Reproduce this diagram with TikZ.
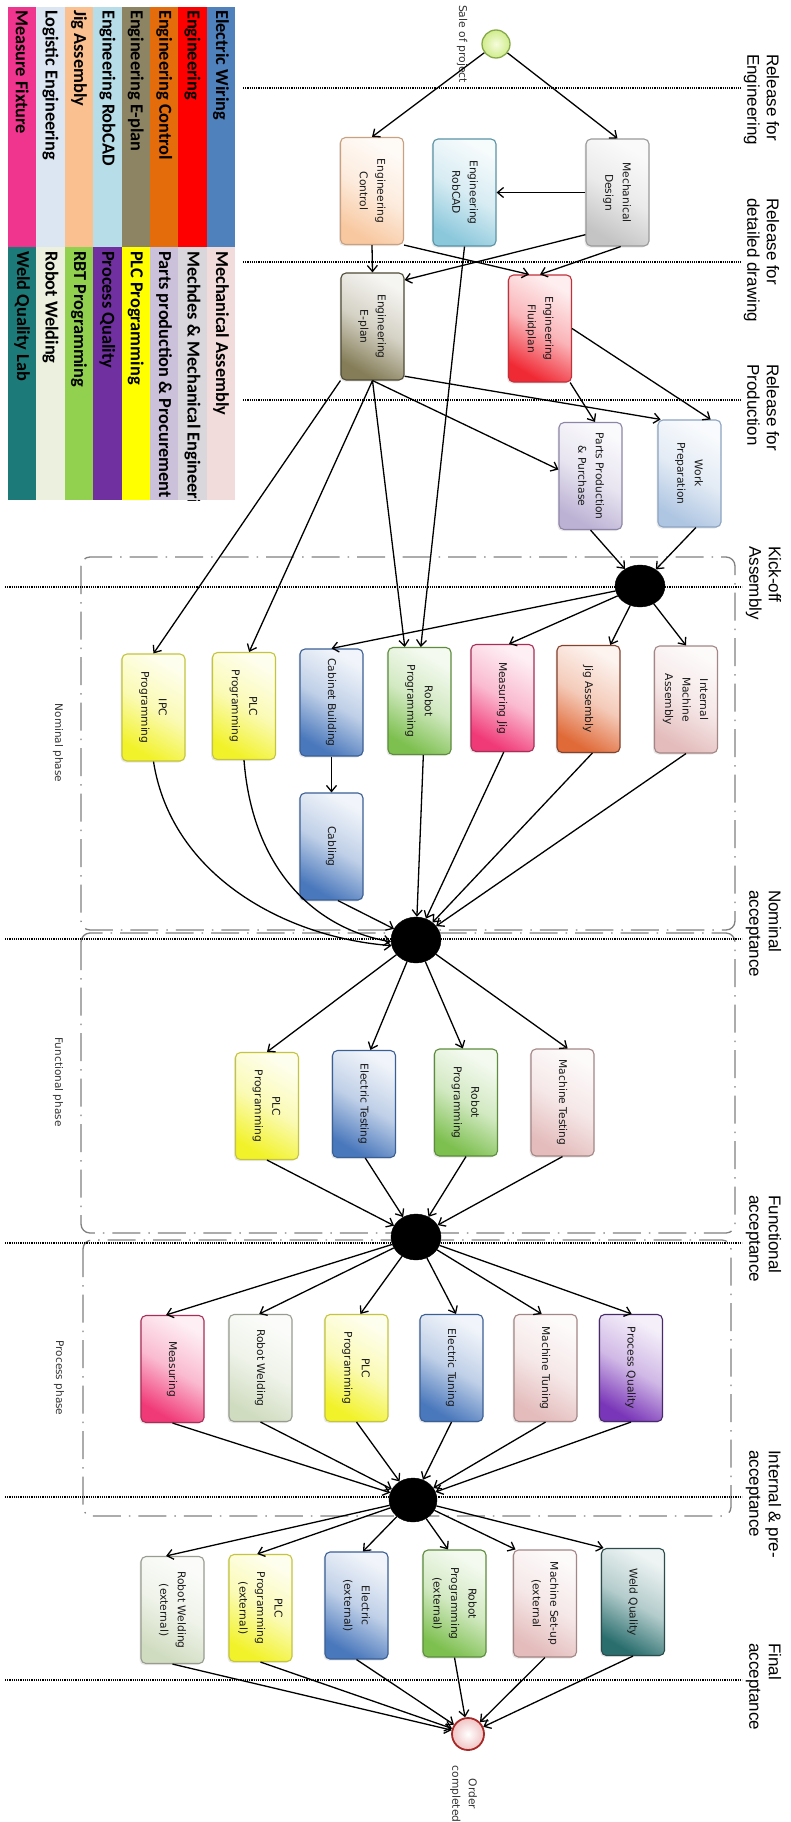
\documentclass[tikz,border=0pt]{standalone}
\usepackage{fontspec}
\setmainfont{DejaVu Sans}
\newfontfamily\lblfont{Liberation Sans}
\newfontfamily\legfont{Carlito}
\usepackage{graphicx}
\usetikzlibrary{arrows.meta,shapes.geometric,calc,shadows}

% legend / category colours
\definecolor{cWiring}{HTML}{4F81BD}
\definecolor{cEng}{HTML}{FF0000}
\definecolor{cEngCtrl}{HTML}{E46C0A}
\definecolor{cEplan}{HTML}{8C8462}
\definecolor{cRobCAD}{HTML}{B7DDE8}
\definecolor{cJig}{HTML}{FAC090}
\definecolor{cLogistic}{HTML}{DCE6F2}
\definecolor{cMeasure}{HTML}{F0358F}
\definecolor{cMechAss}{HTML}{F2DCDB}
\definecolor{cMechdes}{HTML}{D9D7DC}
\definecolor{cParts}{HTML}{CCC1DA}
\definecolor{cPLC}{HTML}{FFFF00}
\definecolor{cProcess}{HTML}{7030A0}
\definecolor{cRBT}{HTML}{92D050}
\definecolor{cWelding}{HTML}{EBF1DE}
\definecolor{cWeldLab}{HTML}{1C7A78}

% box fills (strong end) and borders
\definecolor{fPeach}{HTML}{F8C8A0}\definecolor{bPeach}{HTML}{C9A080}
\definecolor{fRobCAD}{HTML}{8CC8DC}\definecolor{bRobCAD}{HTML}{5A93A6}
\definecolor{fGrey}{HTML}{C4C4C4}\definecolor{bGrey}{HTML}{9A9A9A}
\definecolor{fOlive}{HTML}{857D58}\definecolor{bOlive}{HTML}{4E4B36}
\definecolor{fRed}{HTML}{F02A35}\definecolor{bRed}{HTML}{C2303A}
\definecolor{fLav}{HTML}{BCB2D4}\definecolor{bLav}{HTML}{8E86A8}
\definecolor{fSky}{HTML}{AFC6E2}\definecolor{bSky}{HTML}{8CA4C2}
\definecolor{fYel}{HTML}{F2F22A}\definecolor{bYel}{HTML}{C4C43E}
\definecolor{fBlue}{HTML}{4A78BC}\definecolor{bBlue}{HTML}{3A5F95}
\definecolor{fGreen}{HTML}{7EC050}\definecolor{bGreen}{HTML}{5C8C3C}
\definecolor{fPink}{HTML}{F03A78}\definecolor{bPink}{HTML}{A82E58}
\definecolor{fOrange}{HTML}{E06A38}\definecolor{bOrange}{HTML}{84412C}
\definecolor{fRose}{HTML}{E4BCBC}\definecolor{bRose}{HTML}{A48686}
\definecolor{fSage}{HTML}{D0DCC0}\definecolor{bSage}{HTML}{989C90}
\definecolor{fPurple}{HTML}{7A36B8}\definecolor{bPurple}{HTML}{482A6C}
\definecolor{fTeal}{HTML}{2A6E6E}\definecolor{bTeal}{HTML}{2C4C4C}

\newcommand\bx[1]{\rotatebox{-90}{\begin{tabular}{@{}c@{}}#1\end{tabular}}}
\newcommand\ml[1]{\rotatebox{-90}{\begin{tabular}{@{}l@{}}#1\end{tabular}}}

\tikzset{
  box/.style={draw, rounded corners=5pt, minimum width=63pt, minimum height=107pt,
    inner sep=0pt, line width=1.1pt, font=\fontsize{10.7}{17.5}\selectfont, text=black!90,
    drop shadow={shadow xshift=-1.5pt, shadow yshift=-1.5pt, opacity=.18}},
  paint/.style 2 args={top color=#1!8!white, bottom color=#1, middle color=#1!35!white,
    shading angle=-30, draw=#2},
  gate/.style={ellipse, fill=black, draw=black, inner sep=0pt},
  arr/.style={-{Straight Barb[length=6pt,width=10pt]}, line width=1.3pt},
  mile/.style={line width=1.3pt, dash pattern=on 1.1pt off 1.1pt},
  frame/.style={draw=black!50, line width=1.3pt, rounded corners=9pt,
    dash pattern=on 28pt off 8pt on 1.5pt off 8pt},
  mlabel/.style={anchor=north, inner sep=0pt, font=\lblfont\fontsize{17}{19.5}\selectfont},
  phase/.style={inner sep=0pt, font=\fontsize{10.5}{12.5}\selectfont, text=black!80},
  legtext/.style={anchor=north, inner sep=0pt, font=\legfont\bfseries\fontsize{18.3}{20}\selectfont}
}

\begin{document}
\begin{tikzpicture}[x=1pt, y=-1pt]
\useasboundingbox (0,0) rectangle (790,1822);
\fill[white] (0,0) rectangle (790,1822);

% ---------- legend ----------
\foreach \c/\t [count=\i from 0] in {cMeasure/Measure Fixture, cLogistic/Logistic Engineering,
    cJig/Jig Assembly, cRobCAD/Engineering RobCAD, cEplan/Engineering E-plan,
    cEngCtrl/Engineering Control, cEng/Engineering, cWiring/Electric Wiring}{
  \fill[\c] ({8+28.4*\i},7) rectangle ({8+28.4*(\i+1)},247);
  \node[legtext] (legA\i) at ({8+28.4*\i+14.2},10) {\rotatebox{-90}{\t}};
}
\begin{scope}
\clip (8,247) rectangle (236,500);
\foreach \c/\t [count=\i from 0] in {cWeldLab/Weld Quality Lab, cWelding/Robot Welding,
    cRBT/RBT Programming, cProcess/Process Quality, cPLC/PLC Programming,
    cParts/Parts production \& Procurement, cMechdes/Mechdes \& Mechanical Engineering,
    cMechAss/Mechanical Assembly}{
  \fill[\c] ({8+28.4*\i},247) rectangle ({8+28.4*(\i+1)},500);
  \node[legtext] (legB\i) at ({8+28.4*\i+14.2},251) {\rotatebox{-90}{\t}};
}
\end{scope}

% ---------- phase frames ----------
\draw[frame] (81,557) rectangle (735,930);
\draw[frame] (81,933) rectangle (735,1233);
\draw[frame] (83,1240) rectangle (731,1516);
\node[phase] (phN) at (58,743) {\rotatebox{-90}{Nominal phase}};
\node[phase] (phF) at (58,1082) {\rotatebox{-90}{Functional phase}};
\node[phase] (phP) at (59,1378) {\rotatebox{-90}{Process phase}};

% ---------- milestones ----------
\draw[mile] (243,88) -- (742,88);
\draw[mile] (243,262) -- (742,262);
\draw[mile] (243,400) -- (742,400);
\draw[mile] (5,587) -- (742,587);
\draw[mile] (5,939) -- (742,939);
\draw[mile] (5,1243) -- (742,1243);
\draw[mile] (5,1497) -- (742,1497);
\draw[mile] (5,1680) -- (742,1680);
\node[mlabel] (m1) at (761,54) {\ml{Release for\\Engineering}};
\node[mlabel] (m2) at (761,198) {\ml{Release for\\detailed drawing}};
\node[mlabel] (m3) at (761,364) {\ml{Release for\\Production}};
\node[mlabel] (m4) at (763,546) {\ml{Kick-off\\Assembly}};
\node[mlabel] (m5) at (763,890) {\ml{Nominal\\acceptance}};
\node[mlabel] (m6) at (763,1195) {\ml{Functional\\acceptance}};
\node[mlabel] (m7) at (763,1450) {\ml{Internal \& pre-\\acceptance}};
\node[mlabel] (m8) at (763,1643) {\ml{Final\\acceptance}};

% ---------- start / end events ----------
\node[circle, minimum size=28pt, inner sep=0pt, line width=1.3pt, draw={rgb,255:red,134;green,169;blue,74},
  inner color={rgb,255:red,246;green,252;blue,220}, outer color={rgb,255:red,208;green,236;blue,140}]
  (start) at (496,44) {};
\node[phase, font=\fontsize{10.8}{12}\selectfont] (saletxt) at (462,44) {\rotatebox{-90}{Sale of project}};
\node[circle, minimum size=32pt, inner sep=0pt, line width=1.8pt, draw={rgb,255:red,168;green,40;blue,40},
  inner color=white, outer color={rgb,255:red,240;green,196;blue,196}]
  (end) at (468,1734) {};
\node[phase, font=\fontsize{10.7}{16.5}\selectfont] (endtxt) at (464,1794) {\bx{Order\\completed}};

% ---------- engineering ----------
\node[box, paint={fPeach}{bPeach}]   (ec) at (372,191)   {\bx{Engineering\\Control}};
\node[box, paint={fRobCAD}{bRobCAD}] (rc) at (464.5,192.5) {\bx{Engineering\\RobCAD}};
\node[box, paint={fGrey}{bGrey}]     (md) at (617.5,192.5) {\bx{Mechanical\\Design}};
\node[box, paint={fOlive}{bOlive}]   (ep) at (372.5,326.5) {\bx{Engineering\\E-plan}};
\node[box, paint={fRed}{bRed}]       (fp) at (540,328.5)   {\bx{Engineering\\Fluidplan}};
\node[box, paint={fLav}{bLav}]       (pp) at (590.5,476)   {\bx{Parts Production\\\& Purchase}};
\node[box, paint={fSky}{bSky}]       (wp) at (689.5,473.5) {\bx{Work\\Preparation}};

% ---------- nominal phase ----------
\node[gate, minimum width=50pt, minimum height=42pt] (kick) at (640,586) {};
\node[box, paint={fYel}{bYel}]       (ipc)  at (153.5,707.5) {\bx{IPC\\Programming}};
\node[box, paint={fYel}{bYel}]       (plc1) at (244,706)     {\bx{PLC\\Programming}};
\node[box, paint={fBlue}{bBlue}]     (cb)   at (331.5,702.5) {\bx{Cabinet Building}};
\node[box, paint={fBlue}{bBlue}]     (cab)  at (331.5,846.5) {\bx{Cabling}};
\node[box, paint={fGreen}{bGreen}]   (rp1)  at (419.5,701)   {\bx{Robot\\Programming}};
\node[box, paint={fPink}{bPink}]     (mj)   at (502.5,698)   {\bx{Measuring Jig}};
\node[box, paint={fOrange}{bOrange}] (ja)   at (588.5,699)   {\bx{Jig Assembly}};
\node[box, paint={fRose}{bRose}]     (ima)  at (686,699.5)   {\bx{Internal\\Machine\\Assembly}};
\node[gate, minimum width=50pt, minimum height=46pt] (nom) at (416,940) {};

% ---------- functional phase ----------
\node[box, paint={fYel}{bYel}]       (plc2) at (267,1106)    {\bx{PLC\\Programming}};
\node[box, paint={fBlue}{bBlue}]     (et)   at (364,1104)    {\bx{Electric Testing}};
\node[box, paint={fGreen}{bGreen}]   (rp2)  at (466,1102.5)  {\bx{Robot\\Programming}};
\node[box, paint={fRose}{bRose}]     (mt)   at (562.5,1102.5) {\bx{Machine Testing}};
\node[gate, minimum width=50pt, minimum height=46pt] (func) at (416,1237) {};

% ---------- process phase ----------
\node[box, paint={fPink}{bPink}]     (meas) at (172.5,1369)  {\bx{Measuring}};
\node[box, paint={fSage}{bSage}]     (rw)   at (260.5,1368)  {\bx{Robot Welding}};
\node[box, paint={fYel}{bYel}]       (plc3) at (356.5,1368)  {\bx{PLC\\Programming}};
\node[box, paint={fBlue}{bBlue}]     (etu)  at (451.5,1368)  {\bx{Electric Tuning}};
\node[box, paint={fRose}{bRose}]     (mtu)  at (545.5,1368)  {\bx{Machine Tuning}};
\node[box, paint={fPurple}{bPurple}] (pq)   at (631,1368)    {\bx{Process Quality}};
\node[gate, minimum width=48pt, minimum height=44pt] (int) at (413,1500) {};

% ---------- final acceptance ----------
\node[box, paint={fSage}{bSage}]     (rwx)  at (172.5,1610)  {\bx{Robot Welding\\(external)}};
\node[box, paint={fYel}{bYel}]       (plcx) at (260.5,1608)  {\bx{PLC\\Programming\\(external)}};
\node[box, paint={fBlue}{bBlue}]     (elx)  at (356.5,1605.5) {\bx{Electric\\(external)}};
\node[box, paint={fGreen}{bGreen}]   (rpx)  at (454.5,1603.5) {\bx{Robot\\Programming\\(external)}};
\node[box, paint={fRose}{bRose}]     (msx)  at (545,1603.5)  {\bx{Machine Set-up\\(external}};
\node[box, paint={fTeal}{bTeal}]     (wq)   at (633,1602)    {\bx{Weld Quality}};

% ---------- connectors: engineering ----------
\draw[arr] (start) -- (ec.north);
\draw[arr] (start) -- (md.north);
\draw[arr] (md.west) -- (rc.east);
\draw[arr] ($(md.south west)!.11!(md.north west)$) -- ($(ep.north east)!.07!(ep.south east)$);
\draw[arr] ($(md.south west)!.55!(md.south east)$) -- (fp.north);
\draw[arr] (ec.south east) -- ($(fp.north west)!.33!(fp.north east)$);
\draw[arr] (ec.south) -- (ep.north);
\draw[arr] (rc.south) -- ($(rp1.north west)!.52!(rp1.north east)$);
\draw[arr] ($(ep.south east)!.04!(ep.north east)$) -- ($(wp.north west)!.05!(wp.north east)$);
\draw[arr] (ep.south) -- ($(pp.north west)!.44!(pp.south west)$);
\draw[arr] (fp.east) -- ($(wp.north west)!.83!(wp.north east)$);
\draw[arr] ($(fp.south east)!.03!(fp.south west)$) -- ($(pp.north west)!.57!(pp.north east)$);
\draw[arr] (ep.south west) -- (ipc.north);
\draw[arr] (ep.south) -- ($(plc1.north west)!.58!(plc1.north east)$);
\draw[arr] (ep.south) -- ($(rp1.north west)!.27!(rp1.north east)$);
\draw[arr] (pp.south) -- (kick);
\draw[arr] ($(wp.south west)!.6!(wp.south east)$) -- (kick);

% ---------- connectors: nominal phase ----------
\draw[arr] (kick) -- (cb.north);
\draw[arr] (kick) -- ($(mj.north west)!.6!(mj.north east)$);
\draw[arr] (kick) -- ($(ja.north west)!.84!(ja.north east)$);
\draw[arr] (kick) -- (ima.north);
\draw[arr] (cb.south) -- (cab.north);
\draw[arr] (ipc.south) .. controls +(18,115) and +(-105,-8) .. (nom.193);
\draw[arr] (plc1.south) .. controls +(8,105) and +(-80,-14) .. (nom.184);
\draw[arr] ($(cab.south west)!.6!(cab.south east)$) -- (nom);
\draw[arr] ($(rp1.south west)!.56!(rp1.south east)$) -- (nom);
\draw[arr] ($(mj.south west)!.52!(mj.south east)$) -- (nom);
\draw[arr] ($(ja.south west)!.56!(ja.south east)$) -- (nom);
\draw[arr] (ima.south) -- (nom);

% ---------- connectors: functional phase ----------
\draw[arr] (nom) -- (plc2.north);
\draw[arr] (nom) -- ($(et.north west)!.6!(et.north east)$);
\draw[arr] (nom) -- ($(rp2.north west)!.45!(rp2.north east)$);
\draw[arr] (nom) -- ($(mt.north west)!.58!(mt.north east)$);
\draw[arr] (plc2.south) -- (func);
\draw[arr] ($(et.south west)!.52!(et.south east)$) -- (func);
\draw[arr] (rp2.south) -- (func);
\draw[arr] (mt.south) -- (func);

% ---------- connectors: process phase ----------
\draw[arr] (func) -- ($(meas.north west)!.4!(meas.north east)$);
\draw[arr] (func) -- ($(rw.north west)!.48!(rw.north east)$);
\draw[arr] (func) -- ($(plc3.north west)!.56!(plc3.north east)$);
\draw[arr] (func) -- ($(etu.north west)!.57!(etu.north east)$);
\draw[arr] (func) -- ($(mtu.north west)!.44!(mtu.north east)$);
\draw[arr] (func) -- ($(pq.north west)!.51!(pq.north east)$);
\draw[arr] (meas.south) -- (int);
\draw[arr] (rw.south) -- (int);
\draw[arr] (plc3.south) -- (int);
\draw[arr] (etu.south) -- (int);
\draw[arr] (mtu.south) -- (int);
\draw[arr] (pq.south) -- (int);

% ---------- connectors: final acceptance ----------
\draw[arr] (int) -- ($(rwx.north west)!.4!(rwx.north east)$);
\draw[arr] (int) -- ($(plcx.north west)!.45!(plcx.north east)$);
\draw[arr] (int) -- ($(elx.north west)!.6!(elx.north east)$);
\draw[arr] (int) -- ($(rpx.north west)!.4!(rpx.north east)$);
\draw[arr] (int) -- ($(msx.north west)!.04!(msx.north east)$);
\draw[arr] (int) -- ($(wq.north west)!.04!(wq.north east)$);
\draw[arr] (rwx.south) -- (end);
\draw[arr] (plcx.south) -- (end);
\draw[arr] (elx.south) -- (end);
\draw[arr] (rpx.south) -- (end);
\draw[arr] (msx.south) -- (end);
\draw[arr] (wq.south) -- (end);
\end{tikzpicture}
\end{document}
